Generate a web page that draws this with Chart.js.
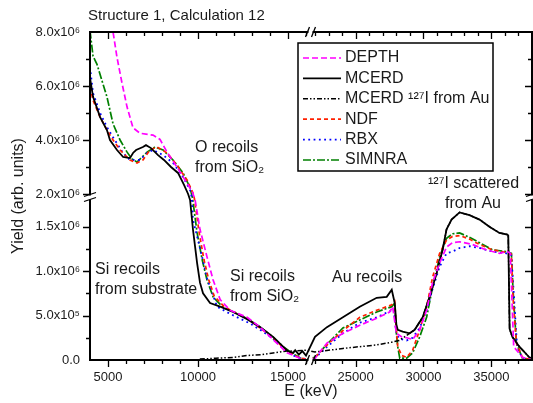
<!DOCTYPE html>
<html>
<head>
<meta charset="utf-8">
<script src="https://cdn.jsdelivr.net/npm/chart.js@4.4.1/dist/chart.umd.min.js"></script>
<style>
  html, body { margin: 0; padding: 0; background: #fff; }
</style>
</head>
<body>
<canvas id="c" width="533" height="403"></canvas>
<script>
// energies in keV, yields in units of 10^6
var depthE = [4700, 5280, 5500, 5780, 6060, 6390, 6780, 7500, 7890, 8280, 8830, 9390, 9700, 9840, 10110, 10500, 10840, 11230, 11780, 12730, 13450, 14170, 14950, 15670, 16000, 22000, 22880, 24060, 25300, 26550, 27500, 27730, 28000, 28400, 28760, 29200, 29720, 30230, 30670, 31190, 31700, 32140, 32660, 33600, 34600, 35600, 36190, 36400, 36650, 37290, 38000];
var depthY = [9.6, 8.0, 7.06, 6.10, 5.22, 4.45, 4.25, 4.18, 4.02, 3.55, 3.0, 2.4, 2.05, 1.80, 1.47, 1.16, 0.90, 0.68, 0.56, 0.48, 0.37, 0.23, 0.08, 0.02, 0.0, 0.02, 0.19, 0.30, 0.39, 0.47, 0.54, 0.60, 0.30, 0.26, 0.25, 0.23, 0.34, 0.56, 0.87, 1.09, 1.27, 1.32, 1.33, 1.30, 1.24, 1.20, 1.22, 1.20, 0.15, 0.03, 0.0];

var mcerdE = [4000, 4170, 4560, 4940, 5110, 5500, 5840, 6220, 6390, 6560, 6940, 7110, 7390, 7780, 8110, 8500, 8890, 9230, 9450, 9560, 9720, 9950, 10110, 10280, 10670, 11230, 11950, 12730, 13450, 14170, 14730, 15000, 15290, 15400, 15600, 15800, 16000, 22000, 22880, 24060, 25300, 26550, 27290, 27660, 27880, 28000, 28100, 28470, 28980, 29350, 29940, 30450, 30970, 31410, 31700, 32070, 32660, 33390, 34130, 34860, 35600, 36190, 36250, 36350, 36550, 37070, 37800, 38000];
var mcerdY = [6.3, 5.6, 4.85, 4.37, 4.0, 3.63, 3.37, 3.33, 3.52, 3.63, 3.74, 3.81, 3.70, 3.44, 3.26, 3.00, 2.78, 2.33, 2.0, 1.80, 1.47, 1.09, 0.87, 0.75, 0.64, 0.60, 0.54, 0.46, 0.37, 0.26, 0.15, 0.10, 0.08, 0.11, 0.06, 0.10, 0.05, 0.26, 0.37, 0.48, 0.60, 0.70, 0.71, 0.79, 0.64, 0.40, 0.34, 0.32, 0.30, 0.34, 0.48, 0.71, 0.98, 1.24, 1.47, 1.58, 1.66, 1.63, 1.58, 1.50, 1.43, 1.41, 1.40, 0.35, 0.26, 0.15, 0.03, 0.02];

var iauE = [10100, 11000, 12000, 12700, 13500, 14170, 14950, 16000, 22000, 24060, 25300, 26550, 27660, 28200, 28700, 29350, 29940, 30450, 30970, 31410, 31700, 32070, 32660, 33390, 34130, 34860, 35600, 36190, 36250, 36350, 36550, 37070, 37800, 38000];
var iauY = [0.01, 0.02, 0.03, 0.05, 0.06, 0.08, 0.10, 0.11, 0.09, 0.13, 0.15, 0.17, 0.20, 0.22, 0.27, 0.34, 0.48, 0.71, 0.98, 1.24, 1.47, 1.58, 1.66, 1.63, 1.58, 1.50, 1.43, 1.41, 1.40, 0.35, 0.26, 0.15, 0.03, 0.02];

var ndfE = [4000, 4170, 4560, 4940, 5280, 5670, 6220, 6610, 6940, 7330, 7720, 8280, 8830, 9390, 9720, 9800, 10050, 10330, 10600, 10900, 11450, 12000, 12700, 13450, 14170, 14730, 15290, 15700, 16000, 22000, 22900, 24060, 25300, 26550, 27660, 27880, 28000, 28100, 28400, 28760, 29200, 29720, 30230, 30670, 31190, 31700, 32140, 32660, 33390, 34130, 35080, 36110, 36480, 36600, 36850, 37290, 38000];
var ndfY = [5.96, 5.47, 4.85, 4.37, 4.00, 3.63, 3.26, 3.15, 3.26, 3.63, 3.74, 3.52, 3.07, 2.52, 2.04, 1.85, 1.45, 1.13, 0.90, 0.72, 0.60, 0.54, 0.47, 0.36, 0.25, 0.14, 0.06, 0.02, 0.01, 0.03, 0.17, 0.33, 0.48, 0.56, 0.62, 0.66, 0.35, 0.15, 0.05, 0.03, 0.11, 0.34, 0.60, 0.93, 1.20, 1.35, 1.39, 1.40, 1.36, 1.30, 1.24, 1.21, 1.19, 0.70, 0.19, 0.03, 0.0];

var rbxE = [4000, 4170, 4560, 4940, 5280, 5840, 6220, 6780, 7170, 7500, 8060, 8610, 9170, 9560, 9650, 9720, 10230, 10500, 11060, 11780, 12900, 13450, 14170, 14730, 15290, 15700, 16000, 22000, 22900, 24060, 25300, 26550, 27660, 27800, 28000, 28200, 28760, 29200, 29720, 30230, 30670, 31190, 31700, 32140, 32660, 33390, 34130, 35080, 36110, 36480, 36700, 36900, 37290, 38000];
var rbxY = [6.7, 5.73, 5.0, 4.48, 4.10, 3.52, 3.26, 3.26, 3.52, 3.63, 3.44, 3.15, 2.63, 2.15, 1.9, 1.58, 1.16, 0.92, 0.60, 0.52, 0.41, 0.34, 0.24, 0.13, 0.05, 0.02, 0.01, 0.02, 0.15, 0.30, 0.42, 0.48, 0.56, 0.57, 0.30, 0.24, 0.22, 0.25, 0.36, 0.56, 0.80, 1.05, 1.20, 1.22, 1.26, 1.28, 1.26, 1.22, 1.20, 1.18, 0.64, 0.15, 0.02, 0.0];

var simE = [4000, 4170, 4390, 4940, 5280, 5670, 6060, 6330, 6610, 7170, 7610, 8060, 8610, 9170, 9550, 9700, 9950, 10230, 10500, 10840, 11400, 12000, 12700, 13450, 14170, 14730, 15290, 15700, 16000, 22000, 22900, 24060, 25300, 26550, 27660, 27880, 28000, 28100, 28250, 28760, 29200, 29720, 30230, 30670, 31190, 31700, 32140, 32660, 33390, 34130, 35080, 36110, 36480, 36600, 36850, 37290, 38000];
var simY = [8.05, 7.1, 6.8, 5.6, 4.6, 4.00, 3.55, 3.30, 3.18, 3.55, 3.74, 3.63, 3.26, 2.78, 2.25, 1.85, 1.43, 1.13, 0.90, 0.71, 0.59, 0.54, 0.47, 0.37, 0.26, 0.15, 0.07, 0.02, 0.01, 0.03, 0.18, 0.36, 0.45, 0.54, 0.60, 0.64, 0.30, 0.15, 0.02, 0.02, 0.08, 0.26, 0.48, 0.82, 1.16, 1.37, 1.42, 1.43, 1.38, 1.32, 1.24, 1.22, 1.20, 0.79, 0.19, 0.02, 0.0];

var xTickValues = [5000, 10000, 15000, 25000, 30000, 35000];
var xTickLabels = ['5000', '10000', '15000', '25000', '30000', '35000'];
var xMinorTicks = [6000, 7000, 8000, 9000, 11000, 12000, 13000, 14000, 16000, 22000, 23000, 24000, 26000, 27000, 28000, 29000, 31000, 32000, 33000, 34000, 36000, 37000];
var yTickValues = [0, 0.5, 1, 1.5, 2, 4, 6, 8];
var yTickLabels = ['0.0', '5.0x10\u2075', '1.0x10\u2076', '1.5x10\u2076', '2.0x10\u2076', '4.0x10\u2076', '6.0x10\u2076', '8.0x10\u2076'];
var yMinorTicks = [0.25, 0.75, 1.25, 3, 5, 7];

// broken axes: [fromValue, toValue, fromDecimal, toDecimal]
var BREAKS = {
    x: [[4000, 16000, 0, 0.4887], [22000, 38000, 0.509, 1]],
    y: [[0, 1.8, 0, 0.4878], [2, 8, 0.5061, 1]]
};

var FONT = '"Liberation Sans", Arial, Helvetica, sans-serif';

class BrokenScale extends Chart.LinearScale {
    toDecimal(v) {
        var s = BREAKS[this.id];
        var a = s[0];
        if (v <= a[1]) return a[2] + (v - a[0]) / (a[1] - a[0]) * (a[3] - a[2]);
        for (var i = 1; i < s.length; i++) {
            var b = s[i];
            if (v < b[0]) return a[3] + (v - a[1]) / (b[0] - a[1]) * (b[2] - a[3]);
            if (v <= b[1] || i === s.length - 1) return b[2] + (v - b[0]) / (b[1] - b[0]) * (b[3] - b[2]);
            a = b;
        }
    }
    getPixelForValue(v) {
        if (v === null || v === undefined || isNaN(v)) return NaN;
        return this.getPixelForDecimal(this.toDecimal(v));
    }
    getValueForPixel(p) {
        var d = this.getDecimalForPixel(p);
        var s = BREAKS[this.id];
        for (var i = 0; i < s.length; i++) {
            var g = s[i];
            if (d <= g[3] || i === s.length - 1) return g[0] + (d - g[2]) / (g[3] - g[2]) * (g[1] - g[0]);
        }
    }
}
BrokenScale.id = 'broken';
BrokenScale.defaults = {};
Chart.register(BrokenScale);

function pts(E, Y) {
    return E.map(function (e, i) { return { x: e, y: Y[i] }; });
}

var annotations = [
    ['O recoils', 195, 148], ['from SiO\u2082', 195, 168],
    ['Si recoils', 95, 270], ['from substrate', 95, 290],
    ['Si recoils', 230, 277], ['from SiO\u2082', 230, 297],
    ['Au recoils', 332, 278],
    ['\u00b9\u00b2\u2077I scattered', 428, 184], ['from Au', 445, 204]
];

var decor = {
    id: 'decor',
    afterDraw: function (chart) {
        var ctx = chart.ctx, a = chart.chartArea, x = chart.scales.x, y = chart.scales.y;
        ctx.save();
        // frame
        ctx.strokeStyle = '#000';
        ctx.lineWidth = 2;
        ctx.strokeRect(a.left, a.top, a.right - a.left, a.bottom - a.top);
        // ticks
        ctx.lineWidth = 1.3;
        ctx.beginPath();
        function xt(v, len) {
            var px = Math.round(x.getPixelForValue(v)) + 0.5;
            ctx.moveTo(px, a.bottom); ctx.lineTo(px, a.bottom + len);
            ctx.moveTo(px, a.top); ctx.lineTo(px, a.top + len);
        }
        function yt(v, len) {
            var py = Math.round(y.getPixelForValue(v)) + 0.5;
            ctx.moveTo(a.left, py); ctx.lineTo(a.left - len, py);
            ctx.moveTo(a.right, py); ctx.lineTo(a.right - len, py);
        }
        xTickValues.forEach(function (v) { xt(v, 7); });
        xMinorTicks.forEach(function (v) { xt(v, 4); });
        yTickValues.forEach(function (v) { if (v > 0 && v < 8) yt(v, 7); });
        yMinorTicks.forEach(function (v) { yt(v, 4); });
        ctx.stroke();

        // breaks
        var yc = y.getPixelForValue(1.9);
        var xc = x.getPixelForValue(19000);
        ctx.fillStyle = '#fff';
        [a.left, a.right].forEach(function (px) {
            ctx.fillRect(px - 3, yc - 1.5, 6, 4);
            ctx.beginPath();
            ctx.moveTo(px - 6, yc - 0.5); ctx.lineTo(px + 6, yc - 4.5);
            ctx.moveTo(px - 6, yc + 4.5); ctx.lineTo(px + 6, yc + 0.5);
            ctx.stroke();
        });
        [a.top, a.bottom].forEach(function (py) {
            ctx.fillRect(xc - 2, py - 3, 4, 6);
            ctx.beginPath();
            ctx.moveTo(xc - 5, py + 5); ctx.lineTo(xc - 1, py - 5);
            ctx.moveTo(xc + 1, py + 5); ctx.lineTo(xc + 5, py - 5);
            ctx.stroke();
        });

        // title
        ctx.fillStyle = '#1a1a1a';
        ctx.textBaseline = 'middle';
        ctx.textAlign = 'left';
        ctx.font = '15px ' + FONT;
        ctx.fillText('Structure 1, Calculation 12', 88, 16);

        // annotations
        ctx.font = '16px ' + FONT;
        annotations.forEach(function (t) { ctx.fillText(t[0], t[1], t[2]); });

        // legend
        var lx = 298, ly = 43, lw = 195, lh = 128;
        ctx.fillStyle = '#fff';
        ctx.fillRect(lx, ly, lw, lh);
        ctx.strokeStyle = '#000';
        ctx.lineWidth = 1.5;
        ctx.strokeRect(lx, ly, lw, lh);
        chart.data.datasets.forEach(function (ds, i) {
            var ry = 58 + i * 20.4;
            ctx.save();
            ctx.strokeStyle = ds.borderColor;
            ctx.lineWidth = ds.borderWidth;
            ctx.setLineDash(ds.borderDash || []);
            ctx.beginPath();
            ctx.moveTo(lx + 5, ry); ctx.lineTo(lx + 43, ry);
            ctx.stroke();
            ctx.restore();
            ctx.fillStyle = '#1a1a1a';
            ctx.fillText(ds.label, lx + 47, ry);
        });
        ctx.restore();
    }
};

var ctx = document.getElementById('c').getContext('2d');
new Chart(ctx, {
    type: 'line',
    data: {
        datasets: [
            { label: 'DEPTH', data: pts(depthE, depthY), borderColor: '#ff00ff', borderWidth: 1.7, borderDash: [6, 3] },
            { label: 'MCERD', data: pts(mcerdE, mcerdY), borderColor: '#000000', borderWidth: 1.8, borderDash: [] },
            { label: 'MCERD \u00b9\u00b2\u2077I from Au', data: pts(iauE, iauY), borderColor: '#000000', borderWidth: 1.5, borderDash: [5, 2, 1.5, 2, 1.5, 2] },
            { label: 'NDF', data: pts(ndfE, ndfY), borderColor: '#ff2000', borderWidth: 1.7, borderDash: [4, 3] },
            { label: 'RBX', data: pts(rbxE, rbxY), borderColor: '#0000ff', borderWidth: 1.8, borderDash: [1.8, 3.5] },
            { label: 'SIMNRA', data: pts(simE, simY), borderColor: '#008000', borderWidth: 1.7, borderDash: [8, 2, 2, 2] }
        ]
    },
    options: {
        responsive: false,
        animation: false,
        layout: { padding: { top: 32, right: 1, left: 0, bottom: 0 } },
        elements: { point: { radius: 0 }, line: { tension: 0, fill: false } },
        plugins: { legend: { display: false }, title: { display: false }, tooltip: { enabled: false } },
        scales: {
            x: {
                type: 'broken', min: 4000, max: 38000,
                grid: { display: false, drawTicks: false }, border: { display: false },
                afterBuildTicks: function (ax) { ax.ticks = xTickValues.map(function (v) { return { value: v }; }); },
                afterFit: function (ax) { ax.height = 43; ax.paddingLeft = 0; ax.paddingRight = 0; },
                ticks: {
                    autoSkip: false, maxRotation: 0, padding: 10, color: '#1a1a1a',
                    font: { family: FONT, size: 13 },
                    callback: function (v) { return xTickLabels[xTickValues.indexOf(v)]; }
                },
                title: { display: true, text: 'E (keV)', color: '#1a1a1a', font: { family: FONT, size: 16 }, padding: { top: 0, bottom: 2 } }
            },
            y: {
                type: 'broken', min: 0, max: 8,
                grid: { display: false, drawTicks: false }, border: { display: false },
                afterBuildTicks: function (ax) { ax.ticks = yTickValues.map(function (v) { return { value: v }; }); },
                afterFit: function (ax) { ax.width = 90; },
                ticks: {
                    autoSkip: false, padding: 10, color: '#1a1a1a',
                    font: { family: FONT, size: 13 },
                    callback: function (v) { return yTickLabels[yTickValues.indexOf(v)]; }
                },
                title: { display: true, text: 'Yield (arb. units)', color: '#1a1a1a', font: { family: FONT, size: 16 }, padding: { top: 9, bottom: 0 } }
            }
        }
    },
    plugins: [decor]
});
</script>
</body>
</html>
